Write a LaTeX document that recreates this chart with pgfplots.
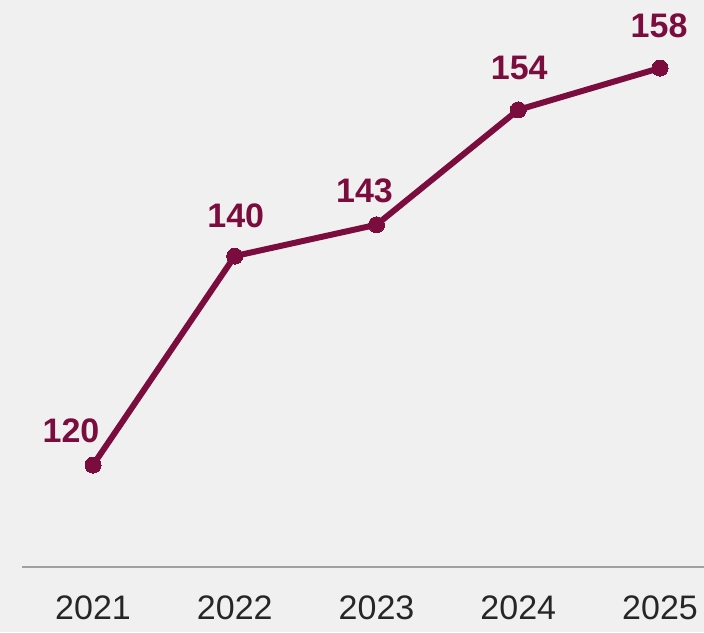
\documentclass[border=0pt]{standalone}
\usepackage{pgfplots}
\pgfplotsset{compat=1.18}
\usepackage{fontspec}
\setmainfont{Liberation Sans}
\definecolor{bg}{HTML}{F0F0F0}
\definecolor{maroon}{HTML}{7A0C3E}
\definecolor{basegray}{HTML}{A0A0A0}
\definecolor{ticktext}{HTML}{262626}
\begin{document}
\begin{tikzpicture}
\fill[bg] (-22pt,-65pt) rectangle (682pt,567pt);
\useasboundingbox (-22pt,-65pt) rectangle (682pt,567pt);
\begin{axis}[
  at={(0,0)}, anchor=south west,
  scale only axis, width=682pt, height=567pt,
  xmin=-0.501, xmax=4.310, ymin=110.24, ymax=164.51,
  axis x line=bottom, axis y line=none,
  x axis line style={basegray, line width=1.2pt, -},
  xtick={0,1,2,3,4},
  xticklabels={2021,2022,2023,2024,2025},
  major tick length=0pt,
  xticklabel style={font=\fontsize{34}{40}\selectfont, text=ticktext, anchor=north, inner sep=0pt, yshift=-29pt},
  clip=false,
  /pgf/number format/assume math mode=true,
]
\addplot[maroon, line width=6pt, mark=*, mark size=8pt, mark options={fill=maroon, draw=maroon, line width=0pt}]
  coordinates {(0,120) (1,140) (2,143) (3,154) (4,158)};
\addplot[only marks, mark=none,
  visualization depends on={value \thisrow{dx} \as \dx},
  visualization depends on={value \thisrow{dy} \as \dy},
  nodes near coords,
  node near coord style={font=\bfseries\fontsize{34}{40}\selectfont, text=maroon, anchor=south, inner sep=0pt, xshift=\dx pt, yshift=\dy pt},
  point meta=explicit]
  table[x=x, y=y, meta=y] {
x y dx dy
0 120 -22 22
1 140 1 28
2 143 -12 22
3 154 1 30
4 158 -1 30
};
\end{axis}
\end{tikzpicture}
\end{document}
